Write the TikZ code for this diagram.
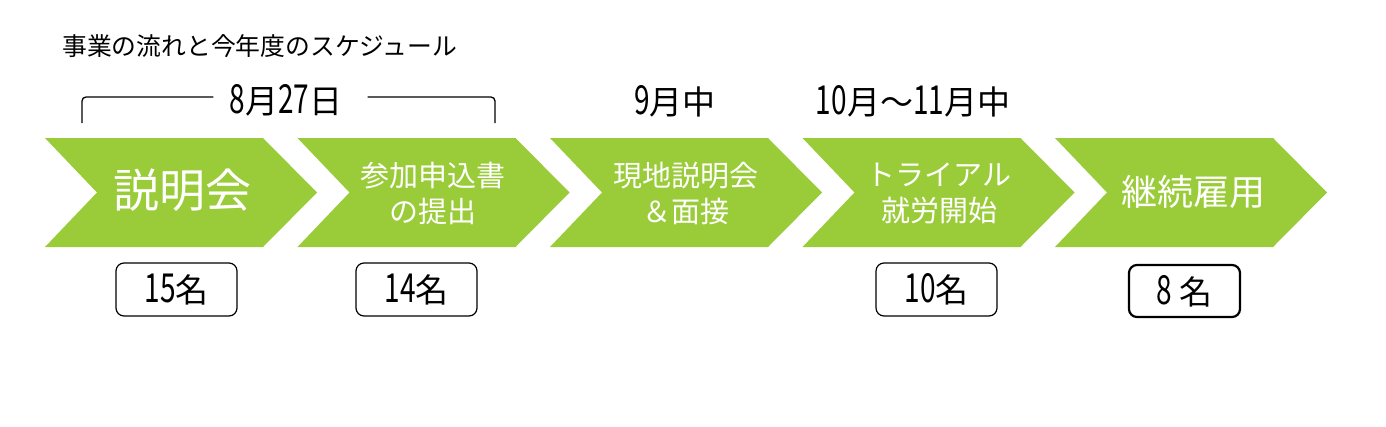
\documentclass[tikz,border=0pt]{standalone}
\usepackage{fontspec}
\newfontfamily\jpfont{Noto Sans CJK JP}
\newfontfamily\jpdigit[FakeStretch=0.7]{Noto Sans CJK JP}
\newcommand\dg[1]{{\jpdigit\fontsize{40}{40}\selectfont #1}}
\definecolor{flowgreen}{RGB}{154,203,57}
\def\chevron(#1){\fill[flowgreen] (#1,138) -- ++(218,0) -- ++(54,54.5) -- ++(-54,54.5) -- ++(-218,0) -- ++(52,-54.5) -- cycle;}

\begin{document}
\begin{tikzpicture}[x=1pt,y=-1pt,
	every node/.style={inner sep=0pt},
	steptext/.style={text=white, align=center, font=\jpfont\fontsize{29}{36}\selectfont},
	datetext/.style={font=\jpfont\fontsize{33}{36}\selectfont},
	countbox/.style={draw, line width=1.2pt, rounded corners=8pt, minimum width=121pt, minimum height=53pt, font=\jpfont\fontsize{33}{35}\selectfont}]
			%%%%% START %%%%%
			
			\fill[white] (0,0) rectangle (1386,426);
			\useasboundingbox (0,0) rectangle (1386,426);
			
			\node[anchor=west, font=\jpfont\fontsize{24.8}{26}\selectfont] (title) at (62,46) {事業の流れと今年度のスケジュール};
			
			\foreach \x in {45,297.5,550,802.5,1055} {\chevron(\x)}
			
			\node[steptext, font=\jpfont\fontsize{46}{48}\selectfont] (s1) at (182,190) {説明会};
			\node[steptext] (s2) at (433,193) {参加申込書\\の提出};
			\node[steptext] (s3) at (686,193) {現地説明会\\＆面接};
			\node[steptext] (s4) at (939,193) {トライアル\\就労開始};
			\node[steptext, font=\jpfont\fontsize{36}{38}\selectfont] (s5) at (1193,192) {継続雇用};
			
			\node[datetext] (d1) at (286,100) {\dg{8}月\dg{27}日};
			\node[datetext] (d2) at (675,101) {\dg{9}月中};
			\node[datetext] (d3) at (913,101) {\dg{10}月～\dg{11}月中};
			
			\coordinate (brL) at (82,123);
			\coordinate (brR) at (495,123);
			\draw[line width=1.3pt, rounded corners=4pt] (brL) |- ([shift={(-16pt,3pt)}]d1.west);
			\draw[line width=1.3pt, rounded corners=4pt] (brR) |- ([shift={(25pt,3pt)}]d1.east);
			
			\node[countbox] (n1) at (176.5,289.5) {\dg{15}名};
			\node[countbox] (n2) at (416.5,289.5) {\dg{14}名};
			\node[countbox] (n3) at (936.5,289.5) {\dg{10}名};
			\node[countbox, line width=2.2pt, minimum width=111pt, minimum height=52pt] (n4) at (1184.5,291) {\dg{8} 名};
			
			%%%%% END %%%%%
\end{tikzpicture}
\end{document}
